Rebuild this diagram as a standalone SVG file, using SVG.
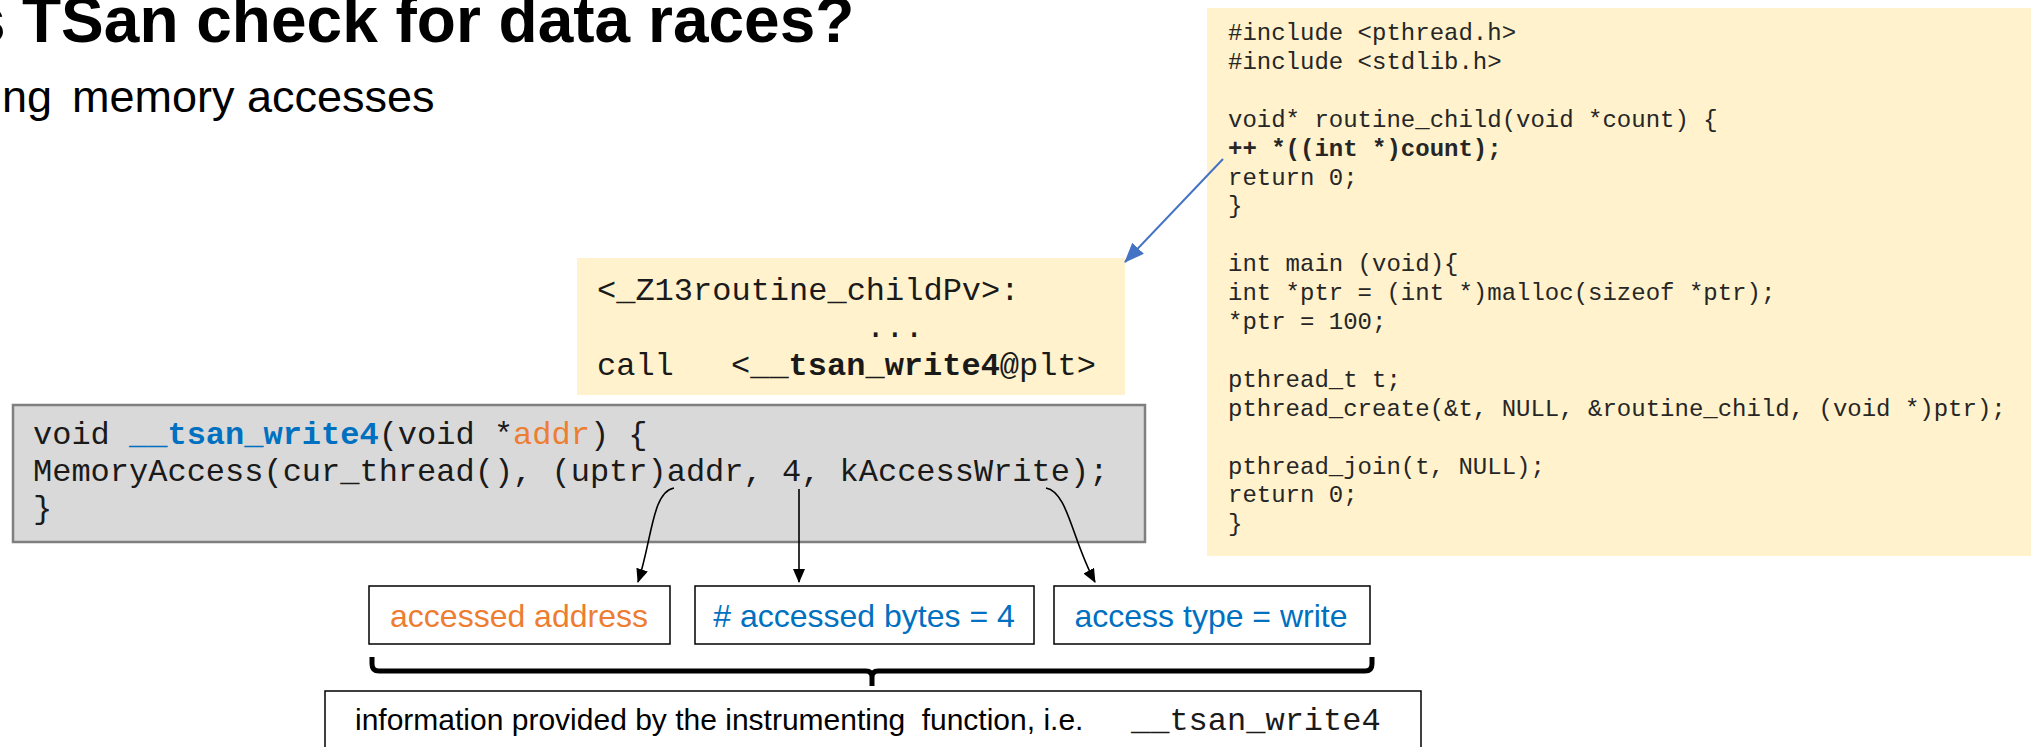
<svg xmlns="http://www.w3.org/2000/svg" width="2036" height="747" viewBox="0 0 2036 747">
  <style>
    .sans { font-family: "Liberation Sans", Arial, sans-serif; fill: #000; }
    .mono { font-family: "Liberation Mono", "Courier New", monospace; }
    .src { font-size: 24px; fill: #262626; }
    .code32 { font-size: 32px; fill: #1a1a1a; }
    .label { font-size: 32px; }
    .info { font-size: 30px; }
    .blue { fill: #0070C0; }
    .orange { fill: #ED7D31; }
    .b { font-weight: bold; }
    .note { fill: #FFF2CC; stroke: none; }
    .box { fill: #fff; stroke: #000; stroke-width: 1.5; }
    .link { fill: none; stroke: #000; stroke-width: 1.6; }
  </style>
  <defs>
    <marker id="headBlack" markerUnits="userSpaceOnUse" markerWidth="14" markerHeight="12" refX="13" refY="6" orient="auto">
      <path d="M0,0 L14,6 L0,12 Z" fill="#000"/>
    </marker>
    <marker id="headBlue" markerUnits="userSpaceOnUse" markerWidth="20" markerHeight="16" refX="19" refY="8" orient="auto">
      <path d="M0,0 L20,8 L0,16 Z" fill="#4472C4"/>
    </marker>
  </defs>

  <rect width="2036" height="747" fill="#fff"/>

  <!-- heading -->
  <g id="title">
    <text class="sans b" y="42" font-size="64"><tspan x="-30">s </tspan><tspan x="22">TSan check for data races?</tspan></text>
    <text class="sans" y="112" font-size="45"><tspan x="2">ng </tspan><tspan x="72">memory accesses</tspan></text>
  </g>

  <!-- C source of the example program -->
  <g id="node-source">
    <rect class="note" x="1207" y="8" width="824" height="548"/>
    <g class="mono src">
      <text x="1228" y="40">#include &lt;pthread.h&gt;</text>
      <text x="1228" y="68.9">#include &lt;stdlib.h&gt;</text>
      <text x="1228" y="126.7">void* routine_child(void *count) {</text>
      <text x="1228" y="155.6" class="b">++ *((int *)count);</text>
      <text x="1228" y="184.5">return 0;</text>
      <text x="1228" y="213.4">}</text>
      <text x="1228" y="271.2">int main (void){</text>
      <text x="1228" y="300.1">int *ptr = (int *)malloc(sizeof *ptr);</text>
      <text x="1228" y="329">*ptr = 100;</text>
      <text x="1228" y="386.8">pthread_t t;</text>
      <text x="1228" y="415.7">pthread_create(&amp;t, NULL, &amp;routine_child, (void *)ptr);</text>
      <text x="1228" y="473.5">pthread_join(t, NULL);</text>
      <text x="1228" y="502.4">return 0;</text>
      <text x="1228" y="531.3">}</text>
    </g>
  </g>

  <!-- disassembly of the instrumented routine -->
  <g id="node-asm">
    <rect class="note" x="577" y="258" width="548" height="137"/>
    <g class="mono code32">
      <text x="597" y="300">&lt;_Z13routine_childPv&gt;:</text>
      <text x="866" y="337">...</text>
      <text x="597" y="375">call</text>
      <text x="731" y="375">&lt;<tspan class="b">__tsan_write4</tspan>@plt&gt;</text>
    </g>
  </g>

  <!-- runtime hook -->
  <g id="node-tsan">
    <rect x="13" y="405" width="1132" height="137" fill="#D9D9D9" stroke="#7F7F7F" stroke-width="2.5"/>
    <g class="mono code32">
      <text x="33" y="444">void <tspan class="b blue">__tsan_write4</tspan>(void *<tspan class="orange">addr</tspan>) {</text>
      <text x="33" y="481">MemoryAccess(cur_thread(), (uptr)addr, 4, kAccessWrite);</text>
      <text x="33" y="518">}</text>
    </g>
  </g>

  <!-- extracted access information -->
  <g id="node-addr">
    <rect class="box" x="369" y="586" width="301" height="58"/>
    <text class="sans label orange" x="519" y="627" text-anchor="middle">accessed address</text>
  </g>
  <g id="node-bytes">
    <rect class="box" x="695" y="586" width="339" height="58"/>
    <text class="sans label blue" x="864" y="627" text-anchor="middle"># accessed bytes = 4</text>
  </g>
  <g id="node-type">
    <rect class="box" x="1054" y="586" width="316" height="58"/>
    <text class="sans label blue" x="1211" y="627" text-anchor="middle">access type = write</text>
  </g>

  <!-- grouping brace -->
  <g id="brace">
    <path d="M372,657 L372,664 Q372,671 379,671 L866,671 Q872,671 872,677 L872,686 M872,677 Q872,671 878,671 L1365,671 Q1372,671 1372,664 L1372,657" fill="none" stroke="#000" stroke-width="5"/>
  </g>

  <g id="node-info">
    <rect class="box" x="325" y="691" width="1096" height="70"/>
    <text class="sans info" x="355" y="730">information provided by the instrumenting<tspan dx="8"> function, i.e.</tspan></text>
    <text class="mono code32" x="1131" y="730">__tsan_write4</text>
  </g>

  <!-- connectors -->
  <g id="connectors">
    <path d="M1223,159 L1125,262" fill="none" stroke="#4472C4" stroke-width="2" marker-end="url(#headBlue)"/>
    <path class="link" d="M674,488 C652,492 652,540 638,582" marker-end="url(#headBlack)"/>
    <path class="link" d="M799,489 L799,582" marker-end="url(#headBlack)"/>
    <path class="link" d="M1046,488 C1068,492 1072,540 1095,582" marker-end="url(#headBlack)"/>
  </g>
</svg>
